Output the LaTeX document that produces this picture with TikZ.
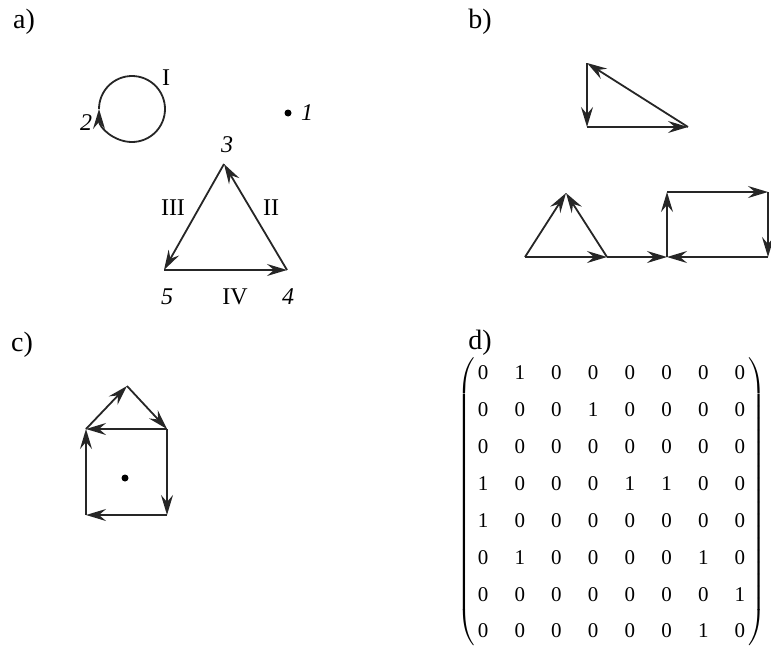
\documentclass[tikz,border=0pt]{standalone}
\usepackage{fontspec}
\setmainfont{Liberation Serif}
\usetikzlibrary{arrows.meta, matrix}
\tikzset{
    edge/.style = {
        line width=0.9pt, draw=black!85
    },
    darc/.style = {
        edge, -{Stealth[length=10pt, width=6pt, inset=3.5pt]}
    },
    panel/.style = {
        font=\fontsize{14}{16}\selectfont
    },
    num/.style = {
        font=\fontsize{12}{14}\selectfont\itshape
    },
    rom/.style = {
        font=\fontsize{12}{14}\selectfont
    },
    dot/.style = {
        circle, fill=black, inner sep=0pt, minimum size=3.5pt
    },
    cell/.style = {
        minimum height=10pt, inner sep=0pt,
        font=\fontsize{10.5}{12}\selectfont
    }
}
\begin{document}
\begin{tikzpicture}[x=0.5pt, y=-0.5pt]
\useasboundingbox (0,0) rectangle (771,653);

% panel labels
\node[panel] (la) at (24,22) {a)};
\node[panel] (lb) at (480,22) {b)};
\node[panel] (lc) at (22,345) {c)};
\node[panel] (ld) at (480,343) {d)};

% a) graph
\node[dot] (v1) at (288,113) {};
\coordinate (v2) at (99,109);
\coordinate (v3) at (224,164);
\coordinate (v4) at (287,270);
\coordinate (v5) at (164,270);

\draw[darc] (v2) arc[start angle=180, end angle=540, radius=33];
\draw[darc] (v3) -- (v5);
\draw[darc] (v5) -- (v4);
\draw[darc] (v4) -- (v3);

\node[num] (n1) at (307,113) {1};
\node[num] (n2) at (86,123) {2};
\node[num] (n3) at (227,145) {3};
\node[num] (n4) at (288,297) {4};
\node[num] (n5) at (167,297) {5};
\node[rom] (rI) at (166,78) {I};
\node[rom] (rII) at (271,208) {II};
\node[rom] (rIII) at (173,208) {III};
\node[rom] (rIV) at (235,297) {IV};

% b) triangle
\coordinate (b1) at (587,63);
\coordinate (b2) at (587,127);
\coordinate (b3) at (688,127);
\draw[darc] (b1) -- (b2);
\draw[darc] (b2) -- (b3);
\draw[darc] (b3) -- (b1);

% b) triangle and rectangle
\coordinate (b4) at (525,257);
\coordinate (b5) at (566,193);
\coordinate (b6) at (607,257);
\coordinate (b7) at (667,257);
\coordinate (b8) at (667,192);
\coordinate (b9) at (768,192);
\coordinate (b10) at (768,257);
\draw[darc] (b4) -- (b5);
\draw[darc] (b6) -- (b5);
\draw[darc] (b4) -- (b6);
\draw[darc] (b6) -- (b7);
\draw[darc] (b7) -- (b8);
\draw[darc] (b8) -- (b9);
\draw[darc] (b9) -- (b10);
\draw[darc] (b10) -- (b7);

% c) house
\coordinate (c1) at (86,429);
\coordinate (c2) at (167,429);
\coordinate (c3) at (167,515);
\coordinate (c4) at (86,515);
\coordinate (c5) at (127,386);
\node[dot] (c6) at (125,478) {};
\draw[darc] (c4) -- (c1);
\draw[darc] (c2) -- (c1);
\draw[darc] (c1) -- (c5);
\draw[darc] (c5) -- (c2);
\draw[darc] (c2) -- (c3);
\draw[darc] (c3) -- (c4);

% d) matrix
\matrix (adj) [matrix of nodes, nodes={cell}, column sep=13.1pt, row sep=8.4pt,
    inner xsep=0pt, every delimiter/.style={inner xsep=0pt},
    left delimiter=(, right delimiter=)] at (611.5,502) {
0 & 1 & 0 & 0 & 0 & 0 & 0 & 0 \\
0 & 0 & 0 & 1 & 0 & 0 & 0 & 0 \\
0 & 0 & 0 & 0 & 0 & 0 & 0 & 0 \\
1 & 0 & 0 & 0 & 1 & 1 & 0 & 0 \\
1 & 0 & 0 & 0 & 0 & 0 & 0 & 0 \\
0 & 1 & 0 & 0 & 0 & 0 & 1 & 0 \\
0 & 0 & 0 & 0 & 0 & 0 & 0 & 1 \\
0 & 0 & 0 & 0 & 0 & 0 & 1 & 0 \\
};

\end{tikzpicture}
\end{document}
